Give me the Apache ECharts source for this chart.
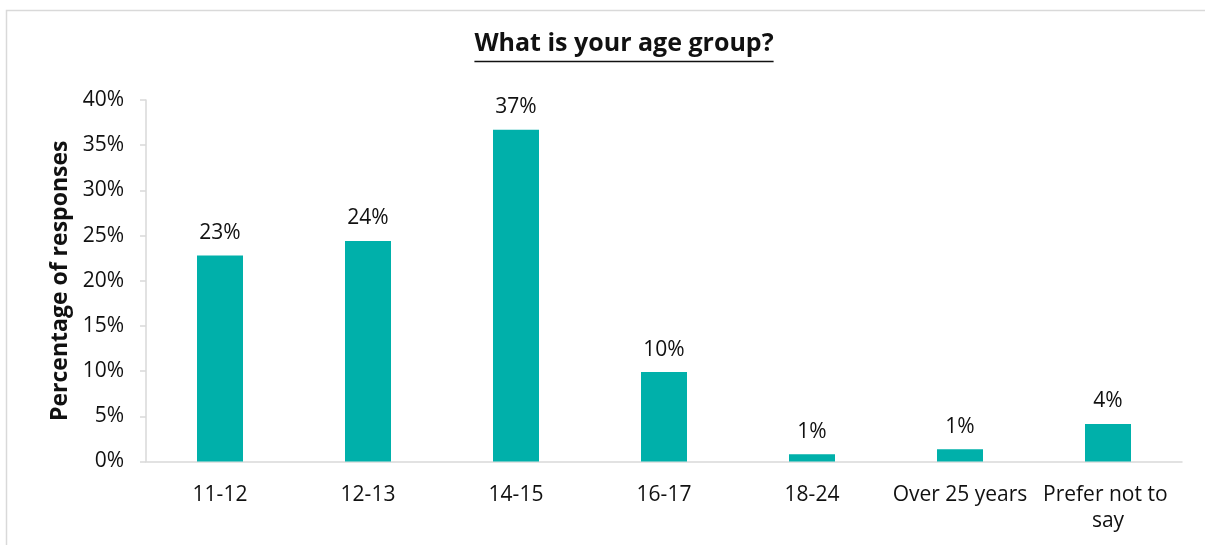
<!DOCTYPE html>
<html>
<head>
<meta charset="utf-8">
<script src="https://cdn.jsdelivr.net/npm/echarts@6/dist/echarts.min.js"></script>
<style>
  html, body { margin: 0; padding: 0; background: #ffffff; overflow: hidden; }
  #chart { width: 1205px; height: 545px; }
</style>
</head>
<body>
<div id="chart"></div>
<script>
// Survey question and answer shares (percent of responses)
const chartTitle = 'What is your age group?';
const yAxisTitle = 'Percentage of responses';
const categories = ['11-12', '12-13', '14-15', '16-17', '18-24', 'Over 25 years', 'Prefer not to say'];
const shares = [22.8, 24.4, 36.7, 9.9, 0.8, 1.35, 4.15];
const yTicks = [0, 5, 10, 15, 20, 25, 30, 35, 40];

const FONT = '"Open Sans", "Noto Sans", sans-serif';
const TEAL = '#00B0AA';
const AXIS_GREY = '#d9d9d9';
const TEXT = '#111111';

const chart = echarts.init(document.getElementById('chart'), null, { renderer: 'canvas' });

// Width of the bold title, used to size its underline
const titleFont = 'bold 25px ' + FONT;
const ctx = document.createElement('canvas').getContext('2d');
ctx.font = titleFont;
const titleWidth = ctx.measureText(chartTitle).width;
const titleCenterX = 624;
const titleY = 44;

chart.setOption({
  animation: false,
  backgroundColor: '#ffffff',
  textStyle: { fontFamily: FONT },
  grid: { left: 146, right: 23, top: 100, bottom: 83.5, containLabel: false },
  graphic: [
    {
      type: 'rect',
      silent: true,
      shape: { x: 6.5, y: 10.5, width: 1400, height: 700 },
      style: { fill: null, stroke: AXIS_GREY, lineWidth: 1.5 }
    },
    {
      type: 'text',
      silent: true,
      x: titleCenterX,
      y: titleY,
      style: {
        text: chartTitle,
        font: titleFont,
        fill: TEXT,
        align: 'center',
        verticalAlign: 'middle'
      }
    },
    {
      type: 'line',
      silent: true,
      shape: {
        x1: titleCenterX - titleWidth / 2, y1: 61.5,
        x2: titleCenterX + titleWidth / 2, y2: 61.5
      },
      style: { stroke: TEXT, lineWidth: 1.5 }
    }
  ],
  xAxis: {
    type: 'category',
    data: categories,
    axisLine: { show: true, lineStyle: { color: AXIS_GREY, width: 1.5 } },
    axisTick: { show: false },
    axisLabel: {
      color: TEXT,
      fontSize: 21,
      fontFamily: FONT,
      margin: 21,
      lineHeight: 26,
      width: 142,
      overflow: 'break',
      interval: 0
    },
    splitLine: { show: false }
  },
  yAxis: {
    type: 'value',
    min: yTicks[0],
    max: yTicks[yTicks.length - 1],
    interval: yTicks[1] - yTicks[0],
    name: yAxisTitle,
    nameLocation: 'middle',
    nameGap: 73,
    nameRotate: 90,
    nameTextStyle: { color: TEXT, fontSize: 23, fontWeight: 'bold', fontFamily: FONT },
    axisLine: { show: true, lineStyle: { color: AXIS_GREY, width: 1.5 } },
    axisTick: { show: true, length: 6, lineStyle: { color: AXIS_GREY, width: 1.5 } },
    axisLabel: {
      color: TEXT,
      fontSize: 21,
      fontFamily: FONT,
      margin: 22,
      formatter: '{value}%'
    },
    splitLine: { show: false }
  },
  series: [{
    type: 'bar',
    data: shares,
    barWidth: 46,
    itemStyle: { color: TEAL },
    label: {
      show: true,
      position: 'top',
      distance: 12,
      color: TEXT,
      fontSize: 21,
      fontFamily: FONT,
      formatter: p => Math.round(p.value) + '%'
    }
  }]
});
</script>
</body>
</html>
